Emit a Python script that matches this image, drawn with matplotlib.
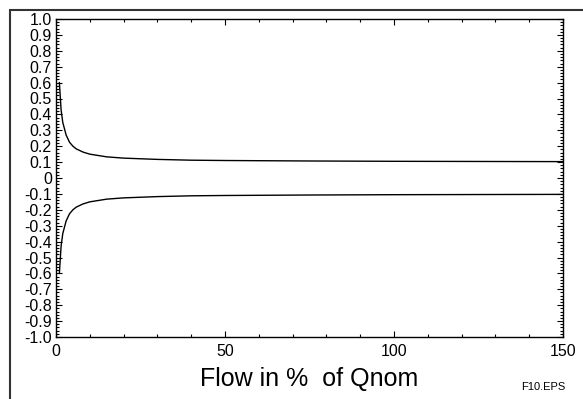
import matplotlib
matplotlib.use("Agg")
import matplotlib.pyplot as plt
from matplotlib.ticker import MultipleLocator
from matplotlib.patches import Rectangle

plt.rcParams['font.family'] = ['Liberation Sans', 'DejaVu Sans']

# flow in % of Qnom and the accuracy limit
flow = [1, 1.5, 2, 3, 4, 5, 6, 8, 10, 15, 20, 30, 40, 50, 75, 100, 125, 150]
upper = [0.6, 0.43, 0.35, 0.27, 0.225, 0.2, 0.183, 0.163, 0.15, 0.133,
         0.125, 0.117, 0.112, 0.11, 0.107, 0.105, 0.104, 0.103]
lower = [-v for v in upper]

y_ticks = [round(-1.0 + 0.1 * i, 1) for i in range(21)]
y_labels = ['0' if t == 0 else f'{t:.1f}' for t in y_ticks]

fig = plt.figure(figsize=(5.83, 3.99), dpi=100)
ax = fig.add_axes([56 / 583, 62 / 399, 507 / 583, 318 / 399])

ax.plot(flow, upper, color='black', lw=1)
ax.plot(flow, lower, color='black', lw=1)

ax.set_xlim(0, 150)
ax.set_ylim(-1.0, 1.0)
ax.set_xticks([0, 50, 100, 150])
ax.set_yticks(y_ticks)
ax.set_yticklabels(y_labels)
ax.xaxis.set_minor_locator(MultipleLocator(10))
ax.yaxis.set_minor_locator(MultipleLocator(0.02))
ax.tick_params(which='both', direction='in', top=True, right=True,
               labelsize=11.5, width=0.8)
ax.tick_params(which='major', length=4)
ax.tick_params(which='minor', length=2)
ax.tick_params(axis='y', pad=3)
ax.tick_params(axis='x', pad=5)
for s in ax.spines.values():
    s.set_linewidth(1)

ax.set_xlabel('Flow in %  of Qnom', fontsize=18, labelpad=6)

fig.text(0.969, 0.017, 'F10.EPS', fontsize=8, ha='right', va='bottom')

# outer frame (only left and top edges fall inside the image)
fig.add_artist(Rectangle((9.5 / 583, -0.1), 1.2, 0.1 + (399 - 10) / 399,
                         transform=fig.transFigure, fill=False,
                         edgecolor='#333333', lw=1.5))

fig.savefig('out.png', dpi=100)
